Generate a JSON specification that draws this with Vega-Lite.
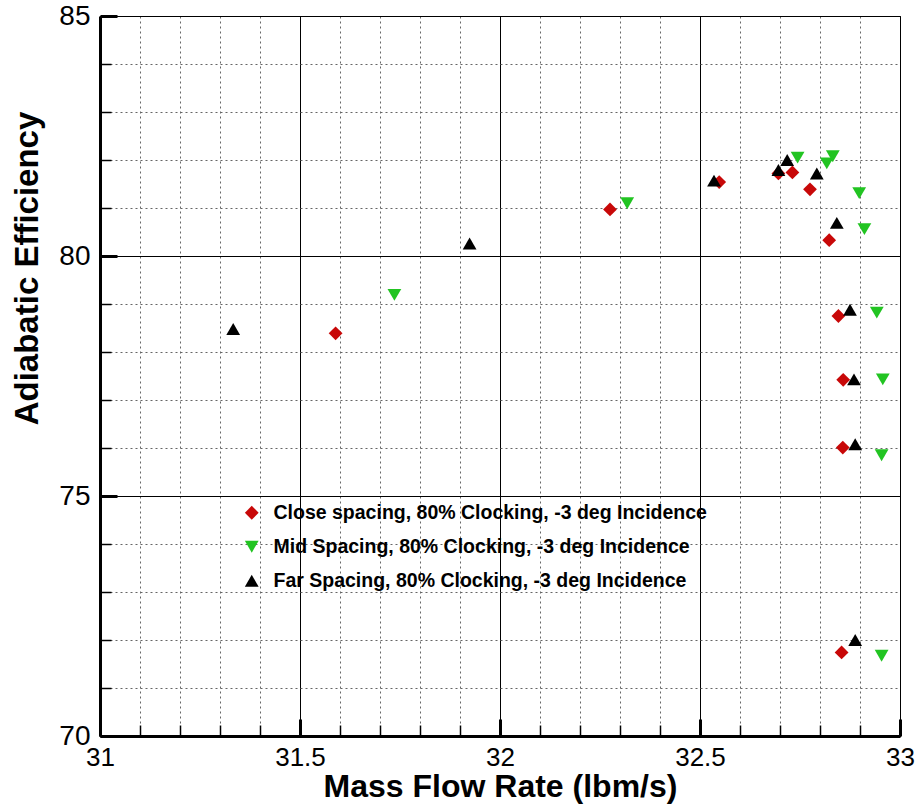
{
  "$schema": "https://vega.github.io/schema/vega-lite/v6.json",
  "width": 800,
  "height": 720,
  "autosize": {"type": "none"},
  "padding": {"left": 100, "top": 16, "right": 20, "bottom": 69},
  "background": "white",
  "config": {
    "font": "Liberation Sans",
    "view": {"stroke": "black", "strokeWidth": 1}
  },
  "data": {
    "values": [
      {"series": "Close spacing, 80% Clocking, -3 deg Incidence", "flow": 31.589, "eff": 78.39},
      {"series": "Close spacing, 80% Clocking, -3 deg Incidence", "flow": 32.275, "eff": 80.97},
      {"series": "Close spacing, 80% Clocking, -3 deg Incidence", "flow": 32.548, "eff": 81.54},
      {"series": "Close spacing, 80% Clocking, -3 deg Incidence", "flow": 32.696, "eff": 81.72},
      {"series": "Close spacing, 80% Clocking, -3 deg Incidence", "flow": 32.731, "eff": 81.74},
      {"series": "Close spacing, 80% Clocking, -3 deg Incidence", "flow": 32.775, "eff": 81.39},
      {"series": "Close spacing, 80% Clocking, -3 deg Incidence", "flow": 32.823, "eff": 80.33},
      {"series": "Close spacing, 80% Clocking, -3 deg Incidence", "flow": 32.846, "eff": 78.75},
      {"series": "Close spacing, 80% Clocking, -3 deg Incidence", "flow": 32.858, "eff": 77.42},
      {"series": "Close spacing, 80% Clocking, -3 deg Incidence", "flow": 32.857, "eff": 76.01},
      {"series": "Close spacing, 80% Clocking, -3 deg Incidence", "flow": 32.854, "eff": 71.74},
      {"series": "Mid Spacing, 80% Clocking, -3 deg Incidence", "flow": 31.736, "eff": 79.19},
      {"series": "Mid Spacing, 80% Clocking, -3 deg Incidence", "flow": 32.318, "eff": 81.10},
      {"series": "Mid Spacing, 80% Clocking, -3 deg Incidence", "flow": 32.744, "eff": 82.05},
      {"series": "Mid Spacing, 80% Clocking, -3 deg Incidence", "flow": 32.817, "eff": 81.93},
      {"series": "Mid Spacing, 80% Clocking, -3 deg Incidence", "flow": 32.832, "eff": 82.08},
      {"series": "Mid Spacing, 80% Clocking, -3 deg Incidence", "flow": 32.898, "eff": 81.31},
      {"series": "Mid Spacing, 80% Clocking, -3 deg Incidence", "flow": 32.911, "eff": 80.56},
      {"series": "Mid Spacing, 80% Clocking, -3 deg Incidence", "flow": 32.942, "eff": 78.82},
      {"series": "Mid Spacing, 80% Clocking, -3 deg Incidence", "flow": 32.957, "eff": 77.43},
      {"series": "Mid Spacing, 80% Clocking, -3 deg Incidence", "flow": 32.954, "eff": 75.85},
      {"series": "Mid Spacing, 80% Clocking, -3 deg Incidence", "flow": 32.954, "eff": 71.67},
      {"series": "Far Spacing, 80% Clocking, -3 deg Incidence", "flow": 31.333, "eff": 78.48},
      {"series": "Far Spacing, 80% Clocking, -3 deg Incidence", "flow": 31.924, "eff": 80.26},
      {"series": "Far Spacing, 80% Clocking, -3 deg Incidence", "flow": 32.535, "eff": 81.57},
      {"series": "Far Spacing, 80% Clocking, -3 deg Incidence", "flow": 32.696, "eff": 81.79},
      {"series": "Far Spacing, 80% Clocking, -3 deg Incidence", "flow": 32.718, "eff": 82.0},
      {"series": "Far Spacing, 80% Clocking, -3 deg Incidence", "flow": 32.792, "eff": 81.72},
      {"series": "Far Spacing, 80% Clocking, -3 deg Incidence", "flow": 32.842, "eff": 80.69},
      {"series": "Far Spacing, 80% Clocking, -3 deg Incidence", "flow": 32.875, "eff": 78.88},
      {"series": "Far Spacing, 80% Clocking, -3 deg Incidence", "flow": 32.885, "eff": 77.43},
      {"series": "Far Spacing, 80% Clocking, -3 deg Incidence", "flow": 32.888, "eff": 76.08},
      {"series": "Far Spacing, 80% Clocking, -3 deg Incidence", "flow": 32.888, "eff": 72.0}
    ]
  },
  "mark": {"type": "point", "filled": true, "opacity": 1, "size": 190},
  "encoding": {
    "x": {
      "field": "flow",
      "type": "quantitative",
      "scale": {"domain": [31, 33], "nice": false, "zero": false},
      "axis": {
        "title": "Mass Flow Rate (lbm/s)",
        "titleFont": "Liberation Sans",
        "titleFontSize": 32,
        "titleFontWeight": "bold",
        "titleColor": "black",
        "titleBaseline": "alphabetic",
        "titleY": 60,
        "values": [31, 31.1, 31.2, 31.3, 31.4, 31.5, 31.6, 31.7, 31.8, 31.9, 32, 32.1, 32.2, 32.3, 32.4, 32.5, 32.6, 32.7, 32.8, 32.9, 33],
        "labelExpr": "abs(datum.value*2 - round(datum.value*2)) < 0.000001 ? format(datum.value, '~g') : ''",
        "labelFontSize": 26,
        "labelColor": "black",
        "labelFlush": false,
        "labelPadding": 25,
        "labelOverlap": false,
        "domainColor": "black",
        "domainWidth": 3,
        "tickColor": "black",
        "tickSize": {"condition": {"test": "abs(datum.value*2 - round(datum.value*2)) < 0.000001", "value": -17}, "value": -11},
        "tickWidth": {"condition": {"test": "abs(datum.value*2 - round(datum.value*2)) < 0.000001", "value": 3}, "value": 1.5},
        "grid": true,
        "gridColor": {"condition": {"test": "abs(datum.value*2 - round(datum.value*2)) < 0.000001", "value": "black"}, "value": "#666666"},
        "gridDash": {"condition": {"test": "abs(datum.value*2 - round(datum.value*2)) < 0.000001", "value": []}, "value": [2, 3]},
        "gridWidth": 1,
        "gridOpacity": 1
      }
    },
    "y": {
      "field": "eff",
      "type": "quantitative",
      "scale": {"domain": [70, 85], "nice": false, "zero": false},
      "axis": {
        "title": "Adiabatic Efficiency",
        "titleFont": "Liberation Sans",
        "titleFontSize": 33,
        "titleFontWeight": "bold",
        "titleColor": "black",
        "titleBaseline": "alphabetic",
        "titleX": -63,
        "titleY": 252,
        "values": [70, 71, 72, 73, 74, 75, 76, 77, 78, 79, 80, 81, 82, 83, 84, 85],
        "labelExpr": "datum.value % 5 === 0 ? datum.label : ''",
        "labelFontSize": 28,
        "labelColor": "black",
        "labelFlush": false,
        "labelPadding": 27,
        "labelOverlap": false,
        "domainColor": "black",
        "domainWidth": 3,
        "tickColor": "black",
        "tickSize": {"condition": {"test": "datum.value % 5 === 0", "value": -17}, "value": -11},
        "tickWidth": {"condition": {"test": "datum.value % 5 === 0", "value": 3}, "value": 1.5},
        "grid": true,
        "gridColor": {"condition": {"test": "datum.value % 5 === 0", "value": "black"}, "value": "#666666"},
        "gridDash": {"condition": {"test": "datum.value % 5 === 0", "value": []}, "value": [2, 3]},
        "gridWidth": 1,
        "gridOpacity": 1
      }
    },
    "shape": {
      "field": "series",
      "type": "nominal",
      "scale": {
        "domain": ["Close spacing, 80% Clocking, -3 deg Incidence", "Mid Spacing, 80% Clocking, -3 deg Incidence", "Far Spacing, 80% Clocking, -3 deg Incidence"],
        "range": ["diamond", "triangle-down", "triangle-up"]
      },
      "legend": {
        "title": null,
        "orient": "none",
        "legendX": 142,
        "legendY": 487,
        "padding": 0,
        "labelFont": "Liberation Sans",
        "labelFontSize": 19.5,
        "labelFontWeight": "bold",
        "labelColor": "black",
        "labelOffset": 12,
        "labelLimit": 600,
        "symbolSize": 190,
        "symbolOpacity": 1,
        "rowPadding": 13
      }
    },
    "color": {
      "field": "series",
      "type": "nominal",
      "scale": {
        "domain": ["Close spacing, 80% Clocking, -3 deg Incidence", "Mid Spacing, 80% Clocking, -3 deg Incidence", "Far Spacing, 80% Clocking, -3 deg Incidence"],
        "range": ["#c80808", "#22c422", "#000000"]
      },
      "legend": {
        "title": null,
        "orient": "none",
        "legendX": 142,
        "legendY": 487,
        "padding": 0,
        "labelFont": "Liberation Sans",
        "labelFontSize": 19.5,
        "labelFontWeight": "bold",
        "labelColor": "black",
        "labelOffset": 12,
        "labelLimit": 600,
        "symbolSize": 190,
        "symbolOpacity": 1,
        "rowPadding": 13
      }
    }
  }
}
